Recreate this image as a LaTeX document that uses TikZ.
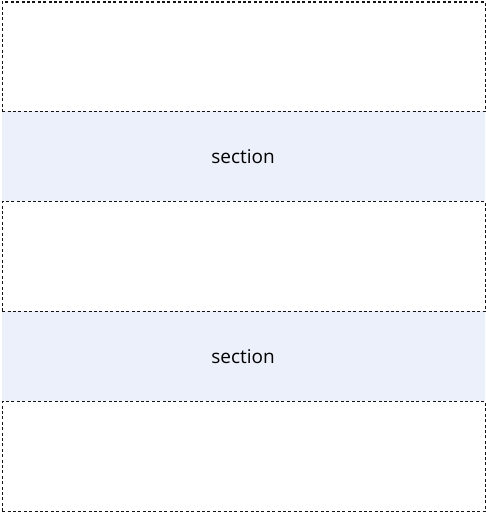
\documentclass[tikz,border=0pt]{standalone}
\usepackage{fontspec}
\setmainfont{Open Sans}
\definecolor{bandblue}{RGB}{236,240,251}
\definecolor{lineclr}{RGB}{20,20,20}
\begin{document}
\begin{tikzpicture}[x=1pt,y=-1pt,
  boxstyle/.style={draw=lineclr, line width=1.3pt, dash pattern=on 3pt off 2.4pt},
  bandstyle/.style={fill=bandblue, draw=none},
  labelstyle/.style={font=\fontsize{19}{22}\selectfont, text=black}]
\useasboundingbox (0,0) rectangle (486,513);
% section bands
\path[bandstyle] (1.5,111) rectangle (484.5,201);
\path[bandstyle] (1.5,311) rectangle (484.5,401);
\node[labelstyle] (s1) at (243,157) {section};
\node[labelstyle] (s2) at (243,357) {section};
% dotted boxes
\node[boxstyle, minimum width=483pt, minimum height=109.5pt, inner sep=0pt, anchor=north west] (b1) at (1.5,1.5) {};
\node[boxstyle, minimum width=483pt, minimum height=110pt, inner sep=0pt, anchor=north west] (b2) at (1.5,201) {};
\node[boxstyle, minimum width=483pt, minimum height=110pt, inner sep=0pt, anchor=north west] (b3) at (1.5,401) {};
\end{tikzpicture}
\end{document}
